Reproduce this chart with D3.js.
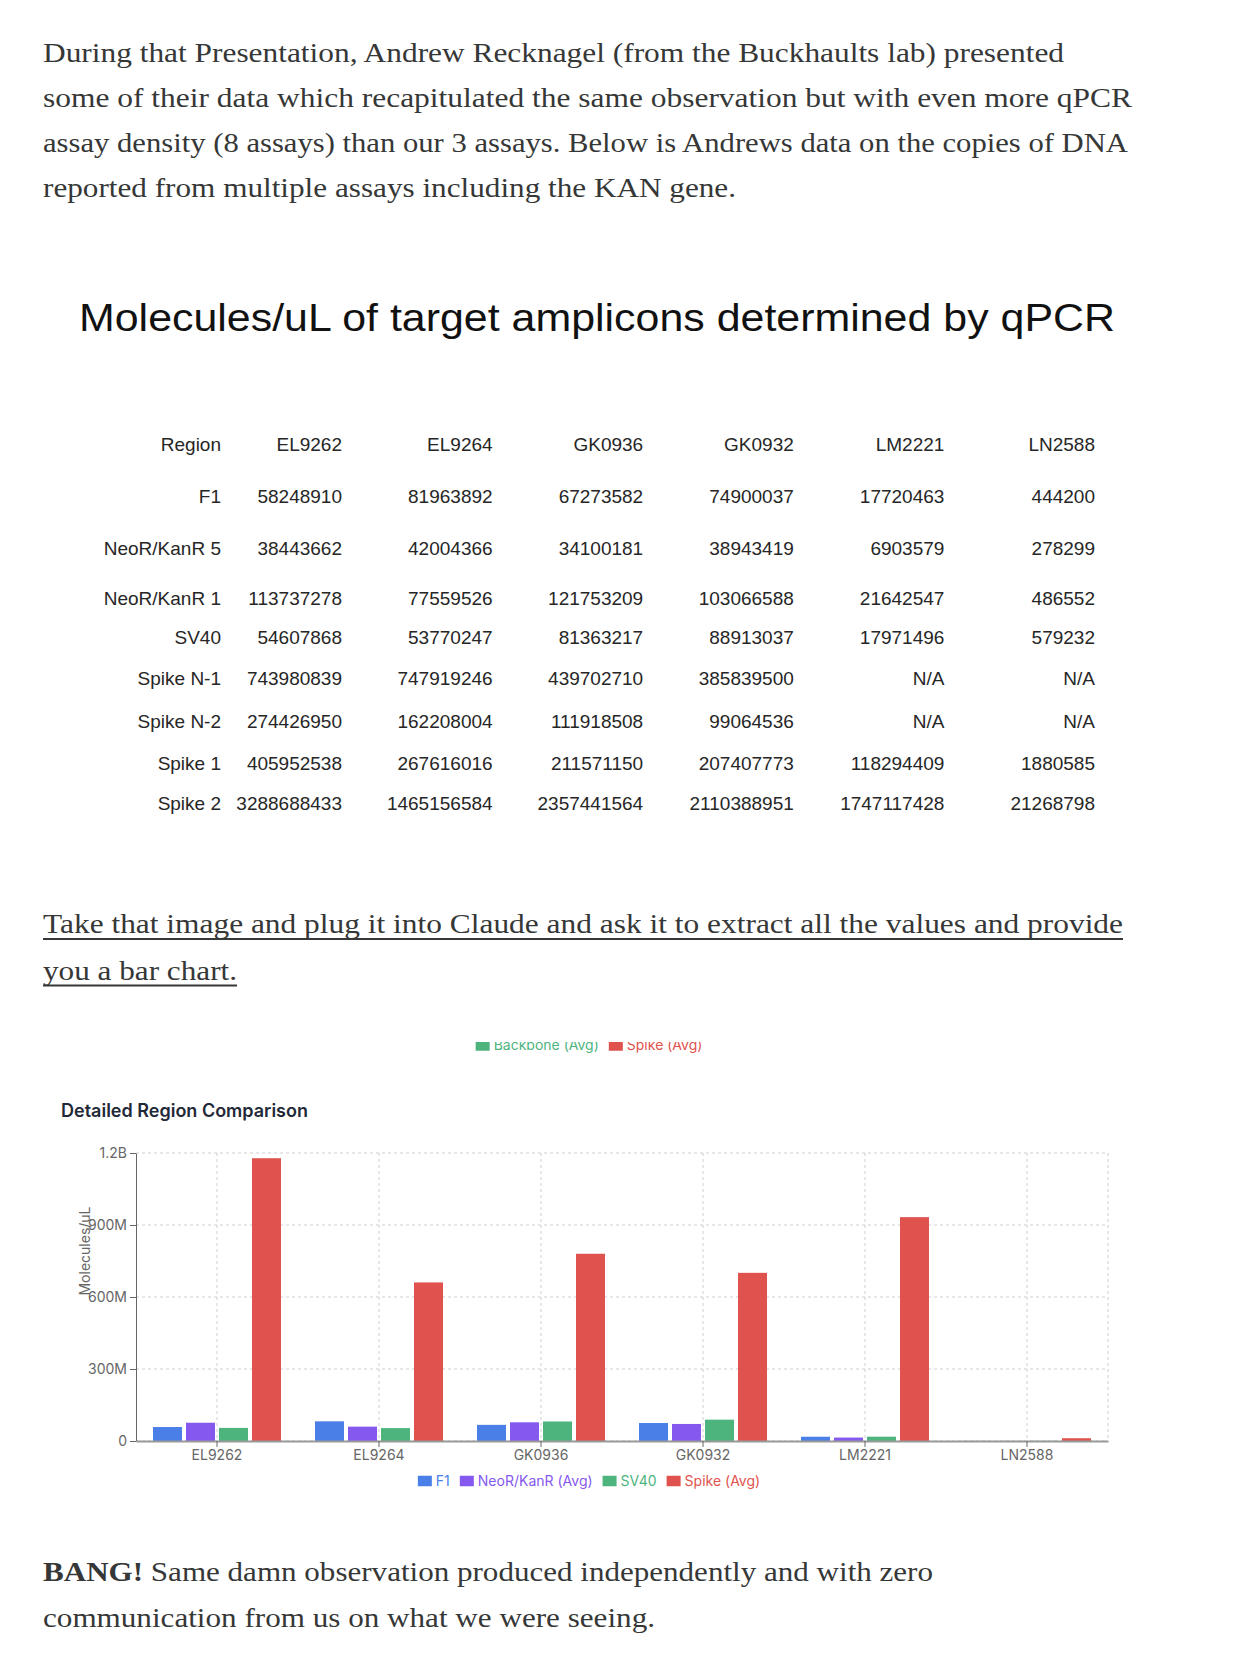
<!DOCTYPE html>
<html>
<head>
<meta charset="utf-8">
<script src="https://cdn.jsdelivr.net/npm/d3@7"></script>
<style>
html,body{margin:0;padding:0;background:#fff;}
svg{display:block;}
</style>
</head>
<body>
<svg id="page" width="1240" height="1660"></svg>
<script>
// ---------- text content ----------
const introLines = [
  "During that Presentation, Andrew Recknagel (from the Buckhaults lab) presented",
  "some of their data which recapitulated the same observation but with even more qPCR",
  "assay density (8 assays) than our 3 assays. Below is Andrews data on the copies of DNA",
  "reported from multiple assays including the KAN gene."
];
const tableTitle = "Molecules/uL of target amplicons determined by qPCR";
const linkLines = [
  "Take that image and plug it into Claude and ask it to extract all the values and provide",
  "you a bar chart."
];
const outroBold = "BANG!";
const outroLines = [
  " Same damn observation produced independently and with zero",
  "communication from us on what we were seeing."
];

// ---------- table data ----------
const samples = ["EL9262", "EL9264", "GK0936", "GK0932", "LM2221", "LN2588"];
const regionLabels = ["F1", "NeoR/KanR 5", "NeoR/KanR 1", "SV40", "Spike N-1", "Spike N-2", "Spike 1", "Spike 2"];
const rowF1      = [58248910, 81963892, 67273582, 74900037, 17720463, 444200];
const rowNeoR5   = [38443662, 42004366, 34100181, 38943419, 6903579, 278299];
const rowNeoR1   = [113737278, 77559526, 121753209, 103066588, 21642547, 486552];
const rowSV40    = [54607868, 53770247, 81363217, 88913037, 17971496, 579232];
const rowSpikeN1 = [743980839, 747919246, 439702710, 385839500, "N/A", "N/A"];
const rowSpikeN2 = [274426950, 162208004, 111918508, 99064536, "N/A", "N/A"];
const rowSpike1  = [405952538, 267616016, 211571150, 207407773, 118294409, 1880585];
const rowSpike2  = [3288688433, 1465156584, 2357441564, 2110388951, 1747117428, 21268798];

// ---------- chart data ----------
const chartTitle = "Detailed Region Comparison";
const seriesNames = ["F1", "NeoR/KanR (Avg)", "SV40", "Spike (Avg)"];
const f1Values       = [58248910, 81963892, 67273582, 74900037, 17720463, 444200];
const neoAvgValues   = [76090470, 59781946, 77926695, 71005004, 14273063, 382426];
const sv40Values     = [54607868, 53770247, 81363217, 88913037, 17971496, 579232];
const spikeAvgValues = [1178262190, 660724963, 780158483, 700675190, 932705919, 11574692];
const yTickValues = [0, 300000000, 600000000, 900000000, 1200000000];
const yTickLabels = ["0", "300M", "600M", "900M", "1.2B"];
const yAxisTitle = "Molecules/uL";
const topLegendNames = ["Backbone (Avg)", "Spike (Avg)"];

// ---------- styles ----------
const seriesColors = ["#4a7fe8", "#8558ee", "#4db47e", "#df524d"];
const topLegendColors = ["#4db47e", "#df524d"];
const bodyFont = "'Liberation Serif', 'DejaVu Serif', serif";
const tableFont = "'Liberation Sans', Arial, sans-serif";
const chartFont = "Inter, 'Noto Sans', sans-serif";
const bodyColor = "#363737";
const bodySize = 27;

const svg = d3.select("#page");

function bodyLine(g, txt, x, y, width) {
  return g.append("text")
    .attr("x", x).attr("y", y)
    .attr("textLength", width).attr("lengthAdjust", "spacingAndGlyphs")
    .attr("font-family", bodyFont).attr("font-size", bodySize)
    .attr("fill", bodyColor)
    .text(txt);
}

// ---------- intro paragraph ----------
const introBase = [62, 106.5, 152, 197];
const introEnds = [1064, 1132, 1128, 736];
introLines.forEach((t, i) => bodyLine(svg, t, 43, introBase[i], introEnds[i] - 43));

// ---------- table image ----------
svg.append("text")
  .attr("x", 79).attr("y", 331)
  .attr("textLength", 1036).attr("lengthAdjust", "spacingAndGlyphs")
  .attr("font-family", tableFont).attr("font-size", 38)
  .attr("fill", "#111")
  .text(tableTitle);

const colRight = d3.scalePoint().domain(samples).range([342, 1095]);
const rowBase = d3.scaleOrdinal()
  .domain(["Region"].concat(regionLabels))
  .range([451, 502.5, 555, 604.5, 643.5, 684.5, 728, 770, 809.5]);
const tableRows = [rowF1, rowNeoR5, rowNeoR1, rowSV40, rowSpikeN1, rowSpikeN2, rowSpike1, rowSpike2];
const tg = svg.append("g")
  .attr("font-family", tableFont).attr("font-size", 19)
  .attr("fill", "#262626").attr("text-anchor", "end");
tg.append("text").attr("x", 221).attr("y", rowBase("Region")).text("Region");
samples.forEach(s => tg.append("text").attr("x", colRight(s)).attr("y", rowBase("Region")).text(s));
regionLabels.forEach((r, ri) => {
  tg.append("text").attr("x", 221).attr("y", rowBase(r)).text(r);
  tableRows[ri].forEach((v, ci) => {
    tg.append("text").attr("x", colRight(samples[ci])).attr("y", rowBase(r)).text(String(v));
  });
});

// ---------- link paragraph ----------
const linkBase = [933, 979.5];
const linkEnds = [1123, 237];
linkLines.forEach((t, i) => {
  bodyLine(svg, t, 43, linkBase[i], linkEnds[i] - 43);
  svg.append("line")
    .attr("x1", 43).attr("x2", linkEnds[i])
    .attr("y1", linkBase[i] + 6).attr("y2", linkBase[i] + 6)
    .attr("stroke", bodyColor).attr("stroke-width", 2);
});

// ---------- clipped top legend ----------
svg.append("defs").append("clipPath").attr("id", "topclip")
  .append("rect").attr("x", 0).attr("y", 1042).attr("width", 1240).attr("height", 30);

function drawLegend(g, names, colors, centerX, cy, clip) {
  const lg = g.append("g").attr("font-family", chartFont).attr("font-size", 14);
  if (clip) lg.attr("clip-path", "url(#" + clip + ")");
  const items = names.map((n, i) => {
    const it = lg.append("g");
    it.append("rect").attr("x", 0).attr("y", cy - 5.25).attr("width", 14).attr("height", 10.5).attr("fill", colors[i]);
    const t = it.append("text").attr("x", 18).attr("y", cy).attr("dy", "0.35em").attr("fill", colors[i]).text(n);
    const w = 18 + t.node().getComputedTextLength();
    return {it, w};
  });
  const total = d3.sum(items, d => d.w) + 10 * (items.length - 1);
  let x = centerX - total / 2;
  items.forEach(d => { d.it.attr("transform", `translate(${x},0)`); x += d.w + 10; });
}
drawLegend(svg, topLegendNames, topLegendColors, 589, 1045.5, "topclip");

// ---------- bar chart ----------
svg.append("text")
  .attr("x", 61).attr("y", 1117)
  .attr("font-family", chartFont).attr("font-size", 18).attr("font-weight", 600)
  .attr("fill", "#1f2937")
  .text(chartTitle);

const plotL = 136, plotR = 1108, plotT = 1153, plotB = 1441;
const x0 = d3.scaleBand().domain(samples).range([plotL, plotR]).padding(0);
const x1 = d3.scaleBand().domain(seriesNames).range([17, 145]).paddingInner(4 / 33).paddingOuter(0);
const y = d3.scaleLinear().domain([0, 1200000000]).range([plotB, plotT]);
const seriesValues = [f1Values, neoAvgValues, sv40Values, spikeAvgValues];

// grid
const grid = svg.append("g").attr("stroke", "#cfcfcf").attr("stroke-dasharray", "3 3").attr("fill", "none");
yTickValues.forEach(v => {
  grid.append("line").attr("x1", plotL).attr("x2", plotR).attr("y1", y(v)).attr("y2", y(v));
});
samples.forEach(s => {
  const cx = x0(s) + x0.bandwidth() / 2;
  grid.append("line").attr("x1", cx).attr("x2", cx).attr("y1", plotT).attr("y2", plotB);
});
grid.append("line").attr("x1", plotR).attr("x2", plotR).attr("y1", plotT).attr("y2", plotB);

// bars
const barsG = svg.append("g");
samples.forEach((s, si) => {
  seriesNames.forEach((n, ni) => {
    const v = seriesValues[ni][si];
    barsG.append("rect")
      .attr("x", x0(s) + x1(n))
      .attr("y", y(v))
      .attr("width", x1.bandwidth())
      .attr("height", y(0) - y(v))
      .attr("fill", seriesColors[ni]);
  });
});

// axes
const yAxis = svg.append("g").attr("transform", `translate(${plotL},0)`)
  .call(d3.axisLeft(y).tickValues(yTickValues).tickFormat((d, i) => yTickLabels[i]).tickSize(6).tickSizeOuter(0).tickPadding(3));
yAxis.selectAll("path,line").attr("stroke", "#666");
yAxis.selectAll("text").attr("font-family", chartFont).attr("font-size", 14).attr("fill", "#666");

const xAxis = svg.append("g").attr("transform", `translate(0,${plotB})`)
  .call(d3.axisBottom(x0).tickSize(6).tickSizeOuter(0).tickPadding(3));
xAxis.select("path").attr("stroke", "#999").attr("stroke-width", 2);
xAxis.selectAll("line").attr("stroke", "#666");
xAxis.selectAll("text").attr("font-family", chartFont).attr("font-size", 14).attr("fill", "#666");

svg.append("text")
  .attr("transform", "translate(90,1251) rotate(-90)")
  .attr("text-anchor", "middle")
  .attr("font-family", chartFont).attr("font-size", 14).attr("fill", "#666")
  .text(yAxisTitle);

drawLegend(svg, seriesNames, seriesColors, 589, 1481, null);

// ---------- outro paragraph ----------
const outroBase = [1581, 1626.5];
const outroEnds = [933, 655];
const o1 = svg.append("text")
  .attr("x", 43).attr("y", outroBase[0])
  .attr("textLength", outroEnds[0] - 43).attr("lengthAdjust", "spacingAndGlyphs")
  .attr("font-family", bodyFont).attr("font-size", bodySize).attr("fill", bodyColor);
o1.append("tspan").attr("font-weight", "bold").text(outroBold);
o1.append("tspan").text(outroLines[0]);
bodyLine(svg, outroLines[1], 43, outroBase[1], outroEnds[1] - 43);
</script>
</body>
</html>
